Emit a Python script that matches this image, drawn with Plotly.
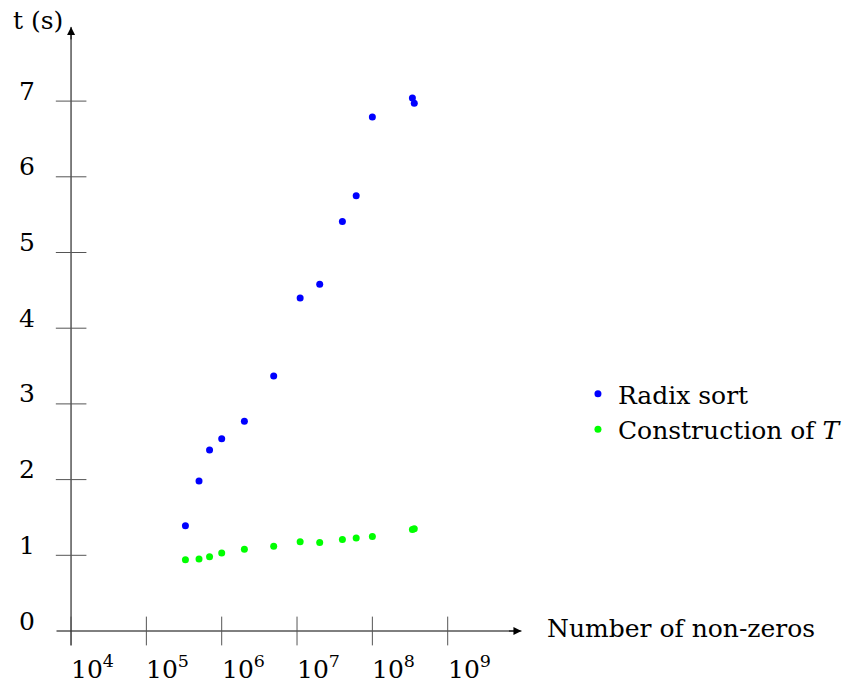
import plotly.graph_objects as go
import math

# ---- data ----
nnz = [3.3e5, 5.0e5, 6.9e5, 1.0e6, 2.0e6, 4.9e6, 1.1e7, 2.0e7, 4.0e7, 6.1e7, 1.0e8, 3.4e8, 3.6e8]
radix_sort = [1.39, 1.98, 2.39, 2.54, 2.77, 3.37, 4.40, 4.58, 5.41, 5.75, 6.79, 7.04, 6.97]
construction_T = [0.94, 0.95, 0.98, 1.03, 1.08, 1.12, 1.18, 1.17, 1.21, 1.23, 1.25, 1.34, 1.35]

x_tick_vals = [1e4, 1e5, 1e6, 1e7, 1e8, 1e9]
x_tick_text = ["10<sup>4</sup>", "10<sup>5</sup>", "10<sup>6</sup>", "10<sup>7</sup>", "10<sup>8</sup>", "10<sup>9</sup>"]
y_tick_vals = [0, 1, 2, 3, 4, 5, 6, 7]
y_tick_text = ["0", "1", "2", "3", "4", "5", "6", "7"]

FONT = "DejaVu Serif"
FS = 25

fig = go.Figure()

# axis lines
fig.add_trace(go.Scatter(x=[10**3.807, 10**9.979], y=[0, 0], mode="lines",
                         line=dict(color="black", width=1), showlegend=False, hoverinfo="skip"))
fig.add_trace(go.Scatter(x=[1e4, 1e4], y=[-0.19, 7.98], mode="lines",
                         line=dict(color="black", width=1), showlegend=False, hoverinfo="skip"))

# tick marks
tx, ty = [], []
for v in x_tick_vals:
    tx += [v, v, None]
    ty += [-0.19, 0.19, None]
for v in y_tick_vals[1:]:
    tx += [10**3.798, 10**4.204, None]
    ty += [v, v, None]
fig.add_trace(go.Scatter(x=tx, y=ty, mode="lines", line=dict(color="#555555", width=1),
                         showlegend=False, hoverinfo="skip"))

# data
fig.add_trace(go.Scatter(x=nnz, y=radix_sort, mode="markers", name="Radix sort",
                         marker=dict(color="#0000ff", size=7)))
fig.add_trace(go.Scatter(x=nnz, y=construction_T, mode="markers", name="Construction of <i>T</i>",
                         marker=dict(color="#00ff00", size=7)))

ann = []
# arrowheads
ann.append(dict(x=9.979, y=0, xref="x", yref="y", ax=-14, ay=0, showarrow=True,
                arrowhead=2, arrowsize=1.6, arrowwidth=1, arrowcolor="black", text=""))
ann.append(dict(x=4, y=7.98, xref="x", yref="y", ax=0, ay=14, showarrow=True,
                arrowhead=2, arrowsize=1.6, arrowwidth=1, arrowcolor="black", text=""))
# tick labels
for v, t in zip(x_tick_vals, x_tick_text):
    ann.append(dict(x=math.log10(v), y=0, xref="x", yref="y", text=t, showarrow=False,
                    xanchor="left", yanchor="middle", xshift=-2, yshift=-36,
                    font=dict(family=FONT, size=FS, color="black")))
for v, t in zip(y_tick_vals, y_tick_text):
    ann.append(dict(x=4, y=v, xref="x", yref="y", text=t, showarrow=False,
                    xanchor="right", yanchor="middle", xshift=-34, yshift=10,
                    font=dict(family=FONT, size=FS, color="black")))
# axis labels
ann.append(dict(x=4, y=7.98, xref="x", yref="y", text="t (s)", showarrow=False,
                xanchor="right", yanchor="middle", xshift=-6, yshift=6,
                font=dict(family=FONT, size=FS, color="black")))
ann.append(dict(x=9.979, y=0, xref="x", yref="y", text="Number of non-zeros", showarrow=False,
                xanchor="left", yanchor="middle", xshift=24, yshift=3,
                font=dict(family=FONT, size=FS, color="black")))

W, H = 847, 684
fig.update_layout(
    width=W, height=H,
    margin=dict(l=0, r=0, t=0, b=0),
    paper_bgcolor="white", plot_bgcolor="white",
    xaxis=dict(type="log", range=[3.0569, 14.261], showgrid=False, zeroline=False,
               showline=False, showticklabels=False, ticks=""),
    yaxis=dict(range=[-0.7001, 8.3355], showgrid=False, zeroline=False,
               showline=False, showticklabels=False, ticks=""),
    annotations=ann,
    legend=dict(x=580 / W, y=1 - 371 / H, xanchor="left", yanchor="top",
                bgcolor="rgba(0,0,0,0)", borderwidth=0,
                font=dict(family=FONT, size=FS, color="black"), tracegroupgap=0),
    showlegend=True,
    font=dict(family=FONT),
)

fig.write_html("out.html")
